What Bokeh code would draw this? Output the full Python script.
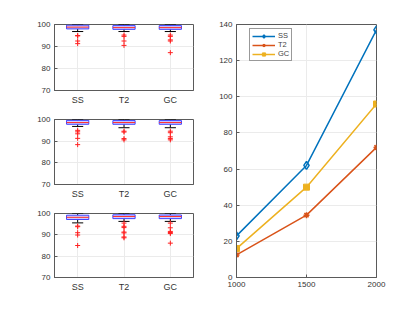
from bokeh.plotting import figure
from bokeh.layouts import row, column
from bokeh.models import FixedTicker, Range1d, Legend, LegendItem
from bokeh.embed import file_html
from bokeh.resources import INLINE

# ---------------- data ----------------
cats = ["SS", "T2", "GC"]
cat_pos = [1, 2, 3]

# box-plot summaries, one list per panel (SS, T2, GC)
q1_p1 = [98.0, 97.8, 97.8]
med_p1 = [98.8, 98.6, 98.6]
q3_p1 = [99.7, 99.5, 99.5]
lo_p1 = [96.8, 96.8, 96.8]
hi_p1 = [100.0, 100.0, 100.0]
out_p1 = [[95.0, 94.8, 92.5, 91.3], [95.2, 94.6, 92.5, 90.5], [95.2, 94.6, 93.0, 92.5, 87.2]]

q1_p2 = [97.8, 97.8, 97.8]
med_p2 = [98.6, 98.6, 98.6]
q3_p2 = [99.6, 99.5, 99.5]
lo_p2 = [96.8, 96.2, 96.2]
hi_p2 = [100.0, 100.0, 100.0]
out_p2 = [[95.0, 94.3, 93.4, 91.3, 88.4], [94.6, 94.2, 91.2, 90.6], [94.6, 93.9, 92.0, 91.2, 90.6]]

q1_p3 = [97.2, 97.6, 97.6]
med_p3 = [98.2, 98.6, 98.6]
q3_p3 = [99.2, 99.4, 99.3]
lo_p3 = [95.6, 96.3, 96.3]
hi_p3 = [100.0, 100.0, 100.0]
out_p3 = [[94.1, 93.8, 91.0, 89.9, 85.0], [95.5, 94.0, 93.4, 91.3, 90.9, 89.0, 88.6],
          [95.5, 93.3, 91.6, 91.1, 90.6, 86.1]]

sizes = [1000, 1500, 2000]
ss_vals = [23, 62, 137]
t2_vals = [12.5, 34.5, 72]
gc_vals = [16, 50, 96]

# ---------------- styling ----------------
FONT = "Liberation Sans"
AX = "#5a5a5a"
GRID = "#ebebeb"


def style(p):
    p.outline_line_color = AX
    p.outline_line_width = 1
    for ax in (p.xaxis, p.yaxis):
        ax.axis_line_color = AX
        ax.major_tick_line_color = AX
        ax.major_tick_in = 3
        ax.major_tick_out = 0
        ax.minor_tick_line_color = None
        ax.major_label_text_font = FONT
        ax.major_label_text_color = "#333333"
        ax.major_label_text_font_size = "8px"
        ax.major_label_standoff = 4
    p.xgrid.grid_line_color = GRID
    p.ygrid.grid_line_color = GRID
    p.background_fill_color = "white"
    p.border_fill_color = "white"


def box_panel(q1, med, q3, lo, hi, outs, h, top, bottom):
    p = figure(width=208, height=h, output_backend="svg", toolbar_location=None,
               x_range=Range1d(0.5, 3.5), y_range=Range1d(70, 100),
               min_border_left=54, min_border_right=15,
               min_border_top=top, min_border_bottom=bottom)
    style(p)
    p.xaxis.ticker = FixedTicker(ticks=cat_pos)
    p.xaxis.major_label_overrides = {1: "SS", 2: "T2", 3: "GC"}
    p.xaxis.major_label_text_font_size = "9px"
    p.xaxis.major_tick_line_color = None
    p.yaxis.ticker = FixedTicker(ticks=[70, 80, 90, 100])
    bw = 0.24
    cw = 0.12
    # whiskers
    p.segment(x0=cat_pos, y0=q3, x1=cat_pos, y1=hi, line_color="black", line_dash="3 2", line_width=1)
    p.segment(x0=cat_pos, y0=q1, x1=cat_pos, y1=lo, line_color="black", line_dash="3 2", line_width=1)
    p.segment(x0=[x - cw for x in cat_pos], y0=hi, x1=[x + cw for x in cat_pos], y1=hi,
              line_color="black", line_width=1)
    p.segment(x0=[x - cw for x in cat_pos], y0=lo, x1=[x + cw for x in cat_pos], y1=lo,
              line_color="black", line_width=1)
    # boxes
    p.quad(left=[x - bw for x in cat_pos], right=[x + bw for x in cat_pos], bottom=q1, top=q3,
           fill_color="#c4c4ff", fill_alpha=0.8, line_color="#4040ff", line_width=1)
    p.segment(x0=[x - bw for x in cat_pos], y0=med, x1=[x + bw for x in cat_pos], y1=med,
              line_color="#ff3030", line_width=1)
    # outliers
    xs, ys = [], []
    for x, o in zip(cat_pos, outs):
        xs += [x] * len(o)
        ys += o
    p.scatter(x=xs, y=ys, marker="cross", size=5, line_color="#ff2020", line_width=1)
    return p


f1 = box_panel(q1_p1, med_p1, q3_p1, lo_p1, hi_p1, out_p1, 107, 24, 17)
f2 = box_panel(q1_p2, med_p2, q3_p2, lo_p2, hi_p2, out_p2, 94, 12, 17)
f3 = box_panel(q1_p3, med_p3, q3_p3, lo_p3, hi_p3, out_p3, 96, 12, 20)

# ---------------- line chart ----------------
f4 = figure(width=200, height=297, output_backend="svg", toolbar_location=None,
            x_range=Range1d(1000, 2000), y_range=Range1d(0, 140),
            min_border_left=28, min_border_right=32, min_border_top=24, min_border_bottom=20)
style(f4)
f4.xaxis.ticker = FixedTicker(ticks=[1000, 1500, 2000])
f4.yaxis.ticker = FixedTicker(ticks=list(range(0, 141, 20)))

c_ss, c_t2, c_gc = "#0072BD", "#D95319", "#EDB120"
l1 = f4.line(sizes, ss_vals, line_color=c_ss, line_width=1.5)
m1 = f4.scatter(sizes, ss_vals, marker="diamond", size=8, line_color=c_ss, fill_color=None, line_width=1.5)
l2 = f4.line(sizes, t2_vals, line_color=c_t2, line_width=1.5)
m2 = f4.scatter(sizes, t2_vals, marker="asterisk", size=6, line_color=c_t2, line_width=1.5)
l3 = f4.line(sizes, gc_vals, line_color=c_gc, line_width=1.5)
m3 = f4.scatter(sizes, gc_vals, marker="square", size=6, line_color=c_gc, fill_color=c_gc, line_width=1)

legend = Legend(items=[LegendItem(label="SS", renderers=[l1, m1]),
                       LegendItem(label="T2", renderers=[l2, m2]),
                       LegendItem(label="GC", renderers=[l3, m3])],
                location=(13, 216))
legend.label_text_font = FONT
legend.label_text_font_size = "7.5px"
legend.label_height = 8
legend.label_width = 10
legend.glyph_height = 8
legend.glyph_width = 23
legend.spacing = 0
legend.padding = 2
legend.margin = 0
legend.label_standoff = 3
legend.border_line_color = "#333333"
legend.border_line_width = 1
f4.add_layout(legend)

layout = row(column(f1, f2, f3), f4)
open("out.html", "w").write(file_html(layout, INLINE))
